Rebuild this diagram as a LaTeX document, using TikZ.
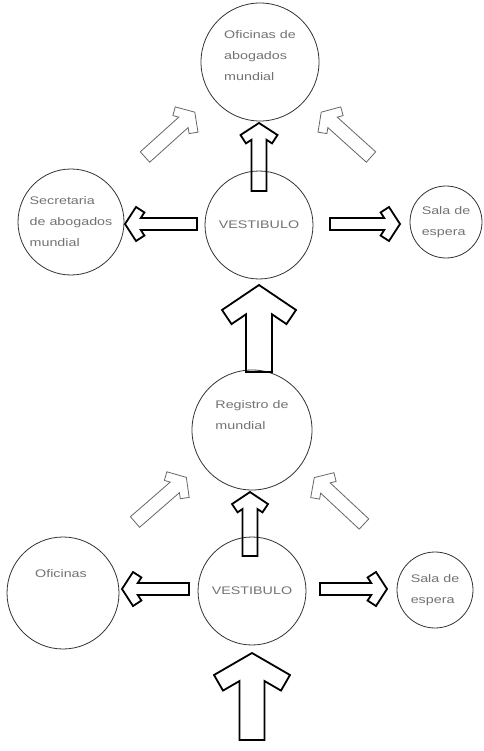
\documentclass[tikz,border=0pt]{standalone}
\usepackage{fontspec}
\newfontfamily\lblfont[FakeStretch=1.3]{Liberation Sans}
\tikzset{
  pics/blockarr/.style n args={6}{code={
    \pgfmathsetmacro\arL{#1}\pgfmathsetmacro\arW{#2}\pgfmathsetmacro\arH{#3}
    \pgfmathsetmacro\arHL{#4}\pgfmathsetmacro\arT{#5}
    \pgfmathsetmacro\arN{sqrt(\arH*\arH+\arHL*\arHL)}
    \pgfmathsetmacro\arOBx{-\arH+\arT*\arHL/\arN}
    \pgfmathsetmacro\arOBy{\arL-\arHL-\arT*\arH/\arN}
    \pgfmathsetmacro\arIY{\arOBy+(-\arW-\arOBx)*\arHL/\arH}
    \pgfmathsetmacro\arOT{\arL-\arHL}
    \pgfmathsetmacro\arOBxr{-\arOBx}
    \draw[#6] (0,\arL) -- (-\arH,\arOT) -- (\arOBx,\arOBy) -- (-\arW,\arIY) -- (-\arW,0)
      -- (\arW,0) -- (\arW,\arIY) -- (\arOBxr,\arOBy) -- (\arH,\arOT) -- cycle;
  }}
}
\begin{document}
\begin{tikzpicture}[x=1pt,y=-1pt,
  txt/.style={font=\lblfont\fontsize{11}{21}\selectfont, text=black!55, align=left},
  room/.style={circle, draw=black!80, line width=0.8pt, inner sep=0pt,
    minimum size=#1, txt},
  boldarrow/.style={draw=black, line width=1.8pt, line join=miter},
  thinarrow/.style={draw=black!60, line width=0.8pt, line join=miter},
]
\useasboundingbox[fill=white] (0,0) rectangle (483,751);

% rooms
\node[room=118pt, label={[txt,yshift=6pt]center:Oficinas de\\abogados\\mundial}] (office) at (260,62) {};
\node[room=108pt] (vest1) at (259,225) {VESTIBULO};
\node[room=106pt] (secre) at (71,222) {Secretaria\\de abogados\\mundial};
\node[room=72pt] (sala1) at (446,222) {Sala de\\espera};
\node[room=120pt, label={[txt,yshift=15pt]center:Registro de\\mundial}] (regis) at (252,430) {};
\node[room=108pt] (vest2) at (252,591) {VESTIBULO};
\node[room=112pt, label={[txt,yshift=19pt,xshift=-2pt]center:Oficinas}] (ofic) at (63,593) {};
\node[room=76pt] (sala2) at (435,590) {Sala de\\espera};

% top group arrows
\pic[rotate=180] at (259,191) {blockarr={68}{7.5}{18.5}{12}{10}{boldarrow}};
\pic[rotate=-90] at (197,224) {blockarr={72}{6}{17}{11}{10}{boldarrow}};
\pic[rotate=90] at (330,224) {blockarr={70}{6}{17}{11}{10}{boldarrow}};
\pic[rotate=132] at (145,157) {blockarr={67}{7}{17}{11}{9}{thinarrow}};
\pic[rotate=228] at (371,157) {blockarr={67}{7}{17}{11}{9}{thinarrow}};

% link between groups
\pic[rotate=180] at (259,372) {blockarr={87}{13}{37}{25}{17}{boldarrow}};

% bottom group arrows
\pic[rotate=180] at (250,556) {blockarr={64}{7.5}{18}{12}{10}{boldarrow}};
\pic[rotate=-90] at (189,589) {blockarr={67}{6}{17}{11}{10}{boldarrow}};
\pic[rotate=90] at (320,589) {blockarr={67}{6}{17}{11}{10}{boldarrow}};
\pic[rotate=131] at (135,522) {blockarr={68}{7}{17}{11}{9}{thinarrow}};
\pic[rotate=227] at (364,524) {blockarr={68}{7}{17}{11}{9}{thinarrow}};

% entrance
\pic[rotate=180] at (252,740) {blockarr={87}{12.5}{38}{22}{18}{boldarrow}};
\end{tikzpicture}
\end{document}
